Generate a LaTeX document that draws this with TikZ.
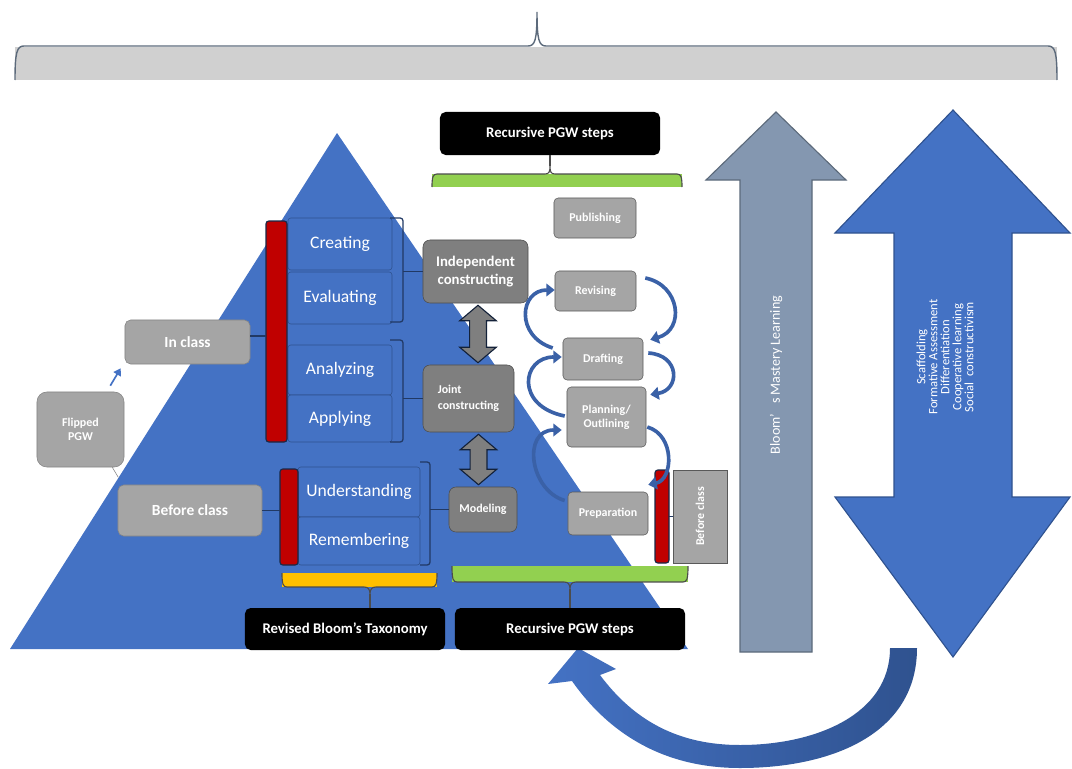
\documentclass[tikz,border=0pt]{standalone}
\usepackage{fontspec}
\setmainfont{Carlito}
\usetikzlibrary{positioning,calc,arrows.meta}
\definecolor{pblue}{HTML}{4472C4}
\definecolor{pbluedark}{HTML}{2F528F}
\definecolor{pgray}{HTML}{A5A5A5}
\definecolor{pgraydark}{HTML}{7F7F7F}
\definecolor{pslate}{HTML}{8497B0}
\definecolor{pred}{HTML}{C00000}
\definecolor{pgreen}{HTML}{92D050}
\definecolor{pyellow}{HTML}{FFC000}
\definecolor{pband}{HTML}{D0D0D0}
\begin{document}
\begin{tikzpicture}[x=0.025cm, y=-0.025cm,
	bloombox/.style={draw=pbluedark, fill=pblue, text=white, rounded corners=2pt, inner sep=0pt, font=\fontsize{12.5}{14}\selectfont},
	lightbox/.style={draw=pgray!80!black, fill=pgray, text=white, rounded corners=4pt, inner sep=0pt, align=center, font=\bfseries\fontsize{11}{13}\selectfont},
	stepbox/.style={draw=pgraydark!70!black, fill=pgray, text=white, rounded corners=3pt, inner sep=0pt, align=center, font=\bfseries\fontsize{8.5}{10}\selectfont},
	darkbox/.style={draw=pgraydark!60!black, fill=pgraydark, text=white, rounded corners=5pt, inner sep=0pt, align=center, font=\bfseries\fontsize{10.5}{12.5}\selectfont},
	blackbox/.style={fill=black, text=white, rounded corners=4pt, inner sep=0pt, font=\bfseries\fontsize{10.5}{12}\selectfont},
	conn/.style={draw=pbluedark!70!black, line width=0.9pt},
	barline/.style={draw=black!70, line width=0.8pt},
	redbar/.style={draw=pbluedark!50!black, fill=pred, line width=0.8pt, rounded corners=2pt},
	dblar/.style={draw=pbluedark!40!black, fill=pgraydark, line width=0.8pt},
	cyclearrow/.style={draw=pblue!85!black, line width=2.6pt, -{Triangle[width=9pt,length=6pt]}},
	]
	\useasboundingbox (0,0) rectangle (1072,769);

	\fill[pband] (15,47) rectangle (1057,80);
	\draw[draw=pslate!70!black, line width=1pt] (15,80) .. controls (15,52) and (17,46) .. (24,46) -- (528,46) .. controls (535,46) and (537,40) .. (537,12) .. controls (537,40) and (539,46) .. (546,46) -- (1048,46) .. controls (1055,46) and (1057,52) .. (1057,80);

	\fill[pblue] (10,649) -- (337,133) -- (688,649) -- cycle;

	\draw[draw=pslate!70!black, fill=pslate, line width=0.8pt] (740,652) -- (740,180) -- (706,180) -- (776,112) -- (846,180) -- (812,180) -- (812,652) -- cycle;
	\node[rotate=90, text=white, font=\fontsize{10}{12}\selectfont] (mastery) at (776,375) {Bloom’\hspace{0.7em}s Mastery Learning};

	\draw[draw=pbluedark, fill=pblue, line width=0.8pt] (953,110) -- (1070,233) -- (1012,233) -- (1012,497) -- (1070,497) -- (953,657) -- (835,497) -- (894,497) -- (894,233) -- (835,233) -- cycle;
	\node[rotate=90, text=white, align=center, font=\fontsize{9}{8.5}\selectfont] (support) at (945,357) {Scaffolding\\Formative Assessment\\Differentiation\\Cooperative learning\\Social\ \ constructivism};

	\shade[left color=pblue, right color=pbluedark] (917,648) .. controls (917,735) and (830,768) .. (740,768) .. controls (665,768) and (610,735) .. (572,681) -- (548,684) -- (578,648) -- (616,669) -- (600,675) .. controls (635,722) and (680,745) .. (740,745) .. controls (815,745) and (890,715) .. (890,648) -- cycle;

	\node[blackbox, minimum width=5.5cm, minimum height=1.075cm] (rtop) at (550,133.5) {Recursive PGW steps};
	\node[blackbox, minimum width=5.75cm, minimum height=1.05cm] (rbot) at (570,629) {Recursive PGW steps};
	\node[blackbox, minimum width=5cm, minimum height=1.05cm] (rbt) at (345,629) {Revised Bloom’s Taxonomy};

	\fill[pgreen] (432,174) rectangle (682,187);
	\draw[barline] (432,187) .. controls (432,177) and (433,174) .. (437,174) -- (545,174) .. controls (549,174) and (550,172) .. (550,166) .. controls (550,172) and (551,174) .. (555,174) -- (677,174) .. controls (681,174) and (682,177) .. (682,187);
	\coordinate (gtop) at (550,166);
	\draw[barline] (gtop) -- (rtop.south);

	\fill[pyellow] (282,573) rectangle (437,587);
	\draw[barline] (282,573) .. controls (282,584) and (283,587) .. (287,587) -- (364,587) .. controls (368,587) and (370,589) .. (370,594) .. controls (370,589) and (372,587) .. (376,587) -- (432,587) .. controls (436,587) and (437,584) .. (437,573);
	\coordinate (ytip) at (370,594);
	\draw[barline] (ytip) -- (ytip |- rbt.north);

	\fill[pgreen] (452,566) rectangle (688,582);
	\draw[barline] (452,566) .. controls (452,579) and (453,582) .. (457,582) -- (564,582) .. controls (568,582) and (570,584) .. (570,589) .. controls (570,584) and (572,582) .. (576,582) -- (683,582) .. controls (687,582) and (688,579) .. (688,566);
	\coordinate (gbot) at (570,589);
	\draw[barline] (gbot) -- (rbot.north);

	\node[bloombox, minimum width=2.6cm, minimum height=1.3cm] (creating) at (340,244) {Creating};
	\node[bloombox, minimum width=2.6cm, minimum height=1.3cm] (evaluating) at (340,298) {Evaluating};
	\node[bloombox, minimum width=2.6cm, minimum height=1.25cm] (analyzing) at (340,370) {Analyzing};
	\node[bloombox, minimum width=2.6cm, minimum height=1.175cm] (applying) at (340,418.5) {Applying};
	\node[bloombox, minimum width=3.05cm, minimum height=1.25cm] (understanding) at (359,492) {Understanding};
	\node[bloombox, minimum width=3.05cm, minimum height=1.2cm] (remembering) at (359,541) {Remembering};

	\draw[redbar] (287,221) -- (266,221) -- (266,442) -- (287,442) -- cycle;
	\draw[redbar] (298,469) -- (280,469) -- (280,565) -- (298,565) -- cycle;
	\draw[redbar] (669,470) -- (655,470) -- (655,563) -- (669,563) -- cycle;

	\draw[conn, rounded corners=2pt] (390,218) -- (403,218) -- (403,322) -- (390,322);
	\draw[conn, rounded corners=2pt] (390,340) -- (403,340) -- (403,442) -- (390,442);
	\draw[conn, rounded corners=2pt] (420,462) -- (430,462) -- (430,565) -- (420,565);

	\node[lightbox, minimum width=3.125cm, minimum height=1.1cm] (inclass) at (187.5,342) {In class};
	\node[lightbox, minimum width=3.6cm, minimum height=1.275cm] (beforeL) at (190,510.5) {Before class};
	\node[lightbox, minimum width=2.175cm, minimum height=1.875cm, rounded corners=7pt, font=\bfseries\fontsize{8.5}{10}\selectfont] (flipped) at (80.5,429.5) {Flipped\\PGW};
	\draw[draw=pgray!80!black] ($(flipped.south east)+(-12,0)$) -- ++(6,10);

	\node[darkbox, minimum width=2.625cm, minimum height=1.575cm] (indep) at (475.5,271.5) {Independent\\constructing};
	\node[darkbox, minimum width=2.275cm, minimum height=1.675cm, align=left, font=\bfseries\fontsize{8.5}{11}\selectfont] (joint) at (468.5,398.5) {Joint\\constructing};
	\node[darkbox, minimum width=1.7cm, minimum height=1.125cm, font=\bfseries\fontsize{8.5}{10}\selectfont] (modeling) at (483,509.5) {Modeling};

	\node[stepbox, minimum width=2.05cm, minimum height=1cm] (publishing) at (595,218) {Publishing};
	\node[stepbox, minimum width=2.025cm, minimum height=1cm] (revising) at (595.5,291) {Revising};
	\node[stepbox, minimum width=2cm, minimum height=1.05cm] (drafting) at (603,359) {Drafting};
	\node[stepbox, minimum width=1.975cm, minimum height=1.5cm] (planning) at (606.5,417) {Planning/\\Outlining};
	\node[stepbox, minimum width=2cm, minimum height=1.075cm] (preparation) at (608,513.5) {Preparation};
	\node[stepbox, rounded corners=0pt, minimum width=1.35cm, minimum height=2.325cm] (beforeR) at (700,516.5) {\rotatebox{90}{Before class}};

	\coordinate (tipA) at (266,336);
	\coordinate (tipB) at (280,510.5);
	\coordinate (tipC) at (669,516.5);
	\coordinate (brA) at (403,271.5);
	\coordinate (brB) at (403,398.5);
	\coordinate (brC) at (430,509.5);
	\draw[conn] (inclass.east |- tipA) -- (tipA);
	\draw[conn] (beforeL.east) -- (tipB);
	\draw[conn] (tipC) -- (beforeR.west);
	\draw[conn] (brA) -- (indep.west);
	\draw[conn] (brB) -- (joint.west);
	\draw[conn] (brC) -- (modeling.west);
	\draw[pblue, line width=1.2pt, -{Triangle[width=6pt,length=5pt]}] ($(flipped.north east)+(-14,-6)$) -- ($(inclass.south west)+(-4,4)$);

	\draw[dblar] let \p1=($(indep.south)+(2.5,2)$), \p2=($(joint.north)+(0,-2)$) in (\x1,\y1) -- (\x1+13pt,\y1-11pt) -- (\x1+6pt,\y1-11pt) -- (\x1+6pt,\y2+11pt) -- (\x1+13pt,\y2+11pt) -- (\x1,\y2) -- (\x1-13pt,\y2+11pt) -- (\x1-6pt,\y2+11pt) -- (\x1-6pt,\y1-11pt) -- (\x1-13pt,\y1-11pt) -- cycle;
	\draw[dblar] let \p1=($(joint.south)+(10,2)$), \p2=($(modeling.north)+(0,-2)$) in (\x1,\y1) -- (\x1+13pt,\y1-11pt) -- (\x1+6pt,\y1-11pt) -- (\x1+6pt,\y2+11pt) -- (\x1+13pt,\y2+11pt) -- (\x1,\y2) -- (\x1-13pt,\y2+11pt) -- (\x1-6pt,\y2+11pt) -- (\x1-6pt,\y1-11pt) -- (\x1-13pt,\y1-11pt) -- cycle;

	\draw[cyclearrow] ($(revising.east)+(9,-13)$) .. controls ++(35,7) and ++(35,-10) .. ($(drafting.north east)+(7,2)$);
	\draw[cyclearrow] ($(drafting.west)+(-10,-11)$) .. controls ++(-38,-12) and ++(-35,0) .. ($(revising.west)+(0,-1)$);
	\draw[cyclearrow] ($(drafting.east)+(5,-6)$) .. controls ++(32,2) and ++(30,-5) .. ($(planning.north east)+(4,8)$);
	\draw[cyclearrow] ($(planning.west)+(-2,-1)$) .. controls ++(-50,-10) and ++(-40,0) .. ($(drafting.west)+(-1,-2)$);
	\draw[cyclearrow] ($(planning.east)+(1,10)$) .. controls ++(28,8) and ++(25,-5) .. ($(preparation.north east)+(0,-7)$);
	\draw[cyclearrow] ($(preparation.west)+(-3,-13)$) .. controls ++(-35,-10) and ++(-40,0) .. ($(planning.west)+(-5,13)$);
\end{tikzpicture}
\end{document}
